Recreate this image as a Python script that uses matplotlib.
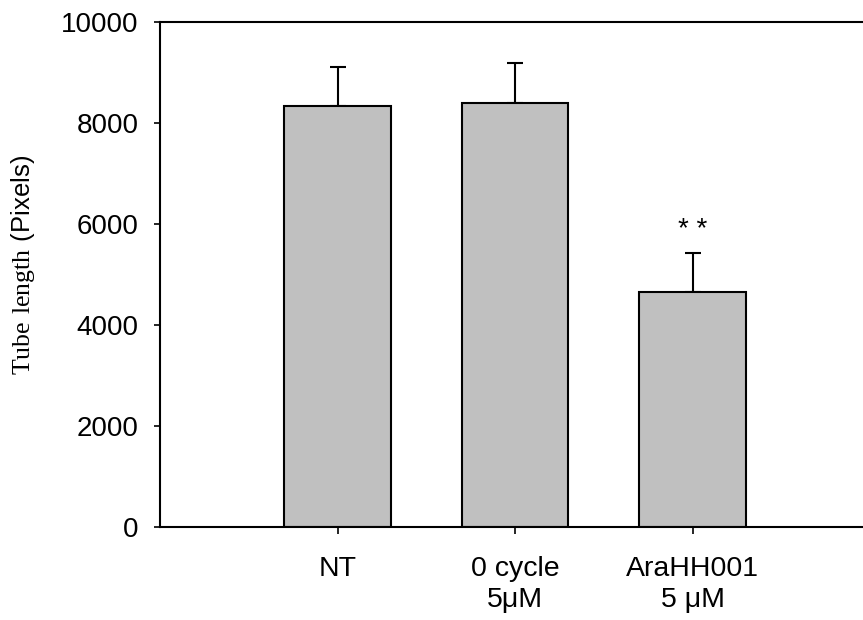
import matplotlib
matplotlib.use('Agg')
import matplotlib.pyplot as plt

# data
groups = ['NT', '0 cycle\n5\u03bcM', 'AraHH001\n5 \u03bcM']
means = [8345, 8390, 4650]
errors = [770, 790, 770]
signif = ['', '', '* *']

plt.rcParams['font.family'] = ['Liberation Sans', 'DejaVu Sans']
plt.rcParams['mathtext.fontset'] = 'custom'
plt.rcParams['mathtext.rm'] = 'Liberation Serif'
plt.rcParams['mathtext.sf'] = 'Liberation Sans'

fig = plt.figure(figsize=(8.63, 6.2), dpi=100)
ax = fig.add_axes([0.1854, 0.15, 0.8146, 0.8145])

pos = list(range(len(groups)))
ax.bar(pos, means, width=0.6, color='#c0c0c0', edgecolor='black', linewidth=1.5, zorder=2)
# only the upper half of the error bar is shown
ax.errorbar(pos, means, yerr=[[0] * len(means), errors], fmt='none',
            ecolor='black', elinewidth=1.5, capsize=5.5, capthick=1.5, zorder=1)

for p, m, e, s in zip(pos, means, errors, signif):
    if s:
        ax.text(p, m + e + 470, s, ha='center', va='center', fontsize=20)

ax.set_xlim(-1, 2.96)
ax.set_ylim(0, 10000)
ax.set_yticks([0, 2000, 4000, 6000, 8000, 10000])
ax.set_xticks(pos)
ax.set_xticklabels(groups, fontsize=20.5, linespacing=1.25)
ax.tick_params(axis='y', labelsize=20, length=4.5, width=1.2, pad=11)
ax.tick_params(axis='x', length=5, width=1.2, pad=16)

for side in ['left', 'bottom', 'top']:
    ax.spines[side].set_linewidth(1.5)
ax.spines['right'].set_visible(False)

ax.set_ylabel(r'$\mathrm{Tube\ length}\ \mathsf{(Pixels)}$', fontsize=18.5)
ax.yaxis.set_label_coords(-0.175, 0.52)

fig.savefig('out.png', dpi=100)
